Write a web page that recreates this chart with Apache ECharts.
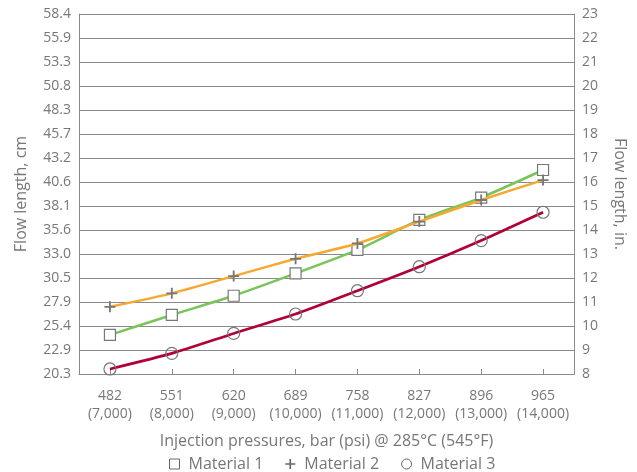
<!DOCTYPE html>
<html>
<head>
<meta charset="utf-8">
<script src="https://cdn.jsdelivr.net/npm/echarts@6/dist/echarts.min.js"></script>
<style>html,body{margin:0;padding:0;background:#fff}#c{width:637px;height:472px}</style>
</head>
<body>
<div id="c"></div>
<script>
var categories = ['482\n(7,000)','551\n(8,000)','620\n(9,000)','689\n(10,000)','758\n(11,000)','827\n(12,000)','896\n(13,000)','965\n(14,000)'];
var material1 = [9.63, 10.46, 11.26, 12.19, 13.17, 14.42, 15.35, 16.5];
var material2 = [10.80, 11.36, 12.08, 12.80, 13.44, 14.35, 15.25, 16.08];
var material3 = [8.21, 8.86, 9.69, 10.5, 11.47, 12.47, 13.56, 14.74];
var inchTicks = [8,9,10,11,12,13,14,15,16,17,18,19,20,21,22,23];
var cmTickLabels = ['20.3','22.9','25.4','27.9','30.5','33.0','35.6','38.1','40.6','43.2','45.7','48.3','50.8','53.3','55.9','58.4'];

var font = 'Open Sans';
var gray = '#777';
var lineGray = '#8a8a8a';
var chart = echarts.init(document.getElementById('c'));
var axisCommon = {
  type: 'value', min: 8, max: 23, interval: 1,
  axisLine: {show: true, lineStyle: {color: lineGray}},
  axisTick: {show: false},
  splitLine: {show: false},
  nameLocation: 'middle',
  nameTextStyle: {color: gray, fontFamily: font, fontSize: 16}
};
var plusPath = 'path://M5,0 L7,0 L7,5 L12,5 L12,7 L7,7 L7,12 L5,12 L5,7 L0,7 L0,5 L5,5 Z';
chart.setOption({
  animation: false,
  grid: {left: 79, right: 63, top: 14, bottom: 98},
  legend: {
    top: 451, left: 164, itemGap: 22, itemWidth: 10, itemHeight: 10,
    textStyle: {color: gray, fontFamily: font, fontSize: 16, padding: [0, 0, 0, 4]},
    data: [
      {name: 'Material 1', icon: 'rect', itemStyle: {color: '#fff', borderColor: '#666', borderWidth: 1}},
      {name: 'Material 2', icon: plusPath, itemStyle: {color: '#666', borderWidth: 0}},
      {name: 'Material 3', icon: 'circle', itemStyle: {color: '#fff', borderColor: '#666', borderWidth: 1}}
    ]
  },
  xAxis: {
    type: 'category', data: categories, boundaryGap: true,
    axisLine: {lineStyle: {color: lineGray}},
    axisTick: {show: true, alignWithLabel: true, inside: true, length: 5, lineStyle: {color: lineGray}},
    axisLabel: {color: gray, fontFamily: font, fontSize: 14, lineHeight: 18, margin: 13, interval: 0},
    name: 'Injection pressures, bar (psi) @ 285°C (545°F)',
    nameLocation: 'middle', nameGap: 59,
    nameTextStyle: {color: gray, fontFamily: font, fontSize: 16}
  },
  yAxis: [
    Object.assign({}, axisCommon, {
      position: 'left', name: 'Flow length, cm', nameGap: 50,
      splitLine: {show: true, lineStyle: {color: lineGray, width: 1}},
      axisLabel: {color: gray, fontFamily: font, fontSize: 14, margin: 8,
        formatter: function (v) { var i = inchTicks.indexOf(Math.round(v)); return i >= 0 ? cmTickLabels[i] : ''; }}
    }),
    Object.assign({}, axisCommon, {
      position: 'right', name: 'Flow length, in.', nameGap: 38, nameRotate: -90,
      axisLabel: {color: gray, fontFamily: font, fontSize: 14, margin: 8}
    })
  ],
  series: [
    {name: 'Material 1', type: 'line', data: material1, smooth: 0.2, symbol: 'rect', symbolSize: 11,
      lineStyle: {color: '#7ac45a', width: 2.5},
      itemStyle: {color: '#fff', borderColor: '#777', borderWidth: 1.2}, z: 3},
    {name: 'Material 2', type: 'line', data: material2, smooth: 0.2,
      symbol: plusPath, symbolSize: 11,
      lineStyle: {color: '#f7a832', width: 2.5},
      itemStyle: {color: '#777', borderWidth: 0}, z: 4},
    {name: 'Material 3', type: 'line', data: material3, smooth: 0.2, symbol: 'circle', symbolSize: 12,
      lineStyle: {color: '#b00035', width: 2.7},
      itemStyle: {color: 'rgba(255,255,255,0)', borderColor: '#777', borderWidth: 1.2}, z: 2}
  ]
});
</script>
</body>
</html>
